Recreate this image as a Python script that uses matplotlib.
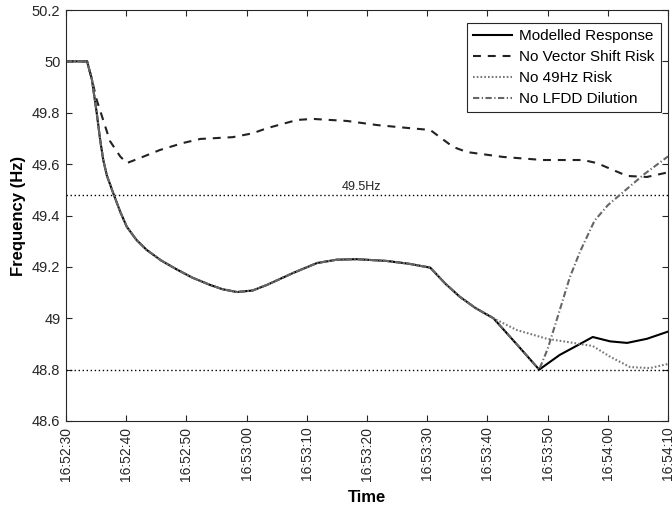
import numpy as np
import matplotlib.pyplot as plt

plt.rcParams['font.family'] = ['Liberation Sans', 'DejaVu Sans']

# seconds after 16:52:30
tick_pos = np.arange(0, 101, 10)
tick_labels = ['16:52:30', '16:52:40', '16:52:50', '16:53:00', '16:53:10', '16:53:20',
               '16:53:30', '16:53:40', '16:53:50', '16:54:00', '16:54:10']
ytick_pos = [48.6, 48.8, 49.0, 49.2, 49.4, 49.6, 49.8, 50.0, 50.2]
ytick_labels = ['48.6', '48.8', '49', '49.2', '49.4', '49.6', '49.8', '50', '50.2']

# Modelled response
t_model = [0, 3.5, 4.3, 5.1, 5.7, 6.2, 6.8, 7.8, 9.0, 10.1, 11.7, 13.4, 15.8, 18.4, 21.0, 23.9, 26.0,
           28.4, 31.0, 33.4, 37.7, 41.7, 45.0, 48.3, 53.3, 57.0, 60.5, 63.0, 65.4, 68.0, 71.0,
           74.9, 78.6, 82.0, 85.0, 87.5, 90.4, 93.2, 96.5, 100]
f_model = [50.0, 50.0, 49.93, 49.80, 49.69, 49.615, 49.555, 49.49, 49.415, 49.356, 49.305, 49.266,
           49.225, 49.19, 49.158, 49.13, 49.113, 49.102, 49.108, 49.13, 49.176, 49.215, 49.228,
           49.23, 49.223, 49.212, 49.197, 49.135, 49.084, 49.04, 49.0, 48.898, 48.80, 48.857,
           48.895, 48.927, 48.91, 48.904, 48.92, 48.948]

# No Vector Shift Risk
t_vs = [0, 3.5, 4.3, 5.1, 7.3, 9.0, 10.1, 12.3, 15.6, 19.4, 22.3, 27.7, 31.0, 33.4, 38.4, 41.0,
        46.7, 51.7, 57.1, 60.5, 64.3, 66.6, 72.6, 79.2, 85.9, 88.2, 93.2, 96.5, 100]
f_vs = [50.0, 50.0, 49.93, 49.85, 49.69, 49.63, 49.604, 49.624, 49.655, 49.682, 49.698, 49.705,
        49.72, 49.74, 49.772, 49.776, 49.768, 49.752, 49.74, 49.733, 49.667, 49.647, 49.628,
        49.616, 49.616, 49.604, 49.554, 49.55, 49.568]

# No 49Hz Risk (follows modelled response until 16:53:41)
t_49_tail = [74.9, 79.9, 84.0, 87.5, 90.4, 93.7, 97.0, 100]
f_49_tail = [48.954, 48.92, 48.905, 48.892, 48.85, 48.81, 48.806, 48.822]
split_49 = t_model.index(71.0) + 1
t_49 = t_model[:split_49] + t_49_tail
f_49 = f_model[:split_49] + f_49_tail

# No LFDD Dilution (follows modelled response until 16:53:48.6)
t_lfdd_tail = [80.0, 81.6, 83.7, 85.4, 87.8, 90.0, 92.5, 96.0, 100]
f_lfdd_tail = [48.88, 49.0, 49.16, 49.26, 49.38, 49.44, 49.49, 49.56, 49.63]
split_lfdd = t_model.index(78.6) + 1
t_lfdd = t_model[:split_lfdd] + t_lfdd_tail
f_lfdd = f_model[:split_lfdd] + f_lfdd_tail

thresholds = [49.48, 48.8]

fig = plt.figure(figsize=(6.72, 5.09), dpi=100)
ax = fig.add_axes([66/672, 1 - 421/509, 602/672, 411/509])

for th in thresholds:
    ax.plot([0, 100], [th, th], color='black', lw=1.0, dashes=(1, 1.9))
ax.text(49, 49.487, '49.5Hz', ha='center', va='bottom', fontsize=9, color='#222222')

ax.plot(t_model, f_model, color='black', lw=1.5, label='Modelled Response')
ax.plot(t_vs, f_vs, color='#222222', lw=1.5, dashes=(3.8, 3.3), label='No Vector Shift Risk')
ax.plot(t_49, f_49, color='#777777', lw=1.5, dashes=(0.8, 1.0), label='No 49Hz Risk')
ax.plot(t_lfdd, f_lfdd, color='#666666', lw=1.5, dashes=(3, 1.2, 0.6, 1.2), label='No LFDD Dilution')

ax.set_xlim(0, 100)
ax.set_ylim(48.6, 50.2)
ax.set_xticks(tick_pos)
ax.set_xticklabels(tick_labels, rotation=90, fontsize=10, color='#262626')
ax.set_yticks(ytick_pos)
ax.set_yticklabels(ytick_labels, fontsize=10.5, color='#262626')
ax.tick_params(direction='in', length=4, width=0.8, top=True, right=True, colors='#262626', pad=4)
for s in ax.spines.values():
    s.set_color('#262626')
    s.set_linewidth(0.8)

ax.set_xlabel('Time', fontsize=12, fontweight='bold', labelpad=7)
ax.set_ylabel('Frequency (Hz)', fontsize=12, fontweight='bold', labelpad=4)

leg = ax.legend(loc='upper right', bbox_to_anchor=(0.988, 0.968), borderaxespad=0,
                fontsize=11, handlelength=2.6, handletextpad=0.45, labelspacing=0.45,
                borderpad=0.4, fancybox=False, framealpha=1)
leg.get_frame().set_edgecolor('#262626')
leg.get_frame().set_linewidth(0.8)

fig.savefig('out.png', dpi=100)
